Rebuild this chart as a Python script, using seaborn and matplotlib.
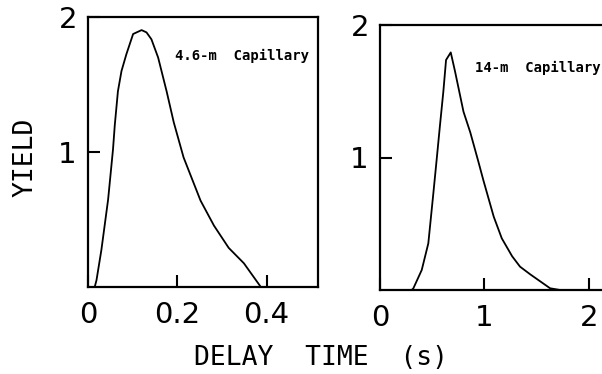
import matplotlib
matplotlib.use("Agg")
import matplotlib.pyplot as plt
import seaborn as sns
import pandas as pd

# ---- data ----
left_delay = [0.015, 0.019, 0.030, 0.045, 0.056, 0.060, 0.067, 0.075, 0.086, 0.101,
              0.120, 0.131, 0.142, 0.157, 0.176, 0.192, 0.214, 0.252, 0.282, 0.315,
              0.349, 0.387]
left_yield = [0.0, 0.05, 0.275, 0.647, 1.02, 1.20, 1.45, 1.60, 1.725, 1.874,
              1.903, 1.886, 1.835, 1.70, 1.45, 1.22, 0.96, 0.64, 0.455, 0.29,
              0.176, 0.0]

right_delay = [0.304, 0.32, 0.40, 0.463, 0.51, 0.54, 0.575, 0.607, 0.633, 0.678,
               0.719, 0.80, 0.865, 0.943, 0.99, 1.09, 1.167, 1.266, 1.342, 1.44,
               1.63, 1.726, 1.85]
right_yield = [0.0, 0.013, 0.151, 0.352, 0.72, 0.96, 1.245, 1.497, 1.736, 1.793,
               1.65, 1.346, 1.19, 0.968, 0.83, 0.553, 0.39, 0.255, 0.176, 0.118,
               0.013, 0.0, 0.0]

left_label = "4.6-m  Capillary"
right_label = "14-m  Capillary"
left_xticks = [0, 0.2, 0.4]
left_xticklabels = ["0", "0.2", "0.4"]
right_xticks = [0, 1, 2]
right_xticklabels = ["0", "1", "2"]
yticks = [1, 2]
yticklabels = ["1", "2"]

sns.set_style("white")
plt.rcParams['font.family'] = ['DejaVu Sans']
plt.rcParams['text.color'] = 'black'
plt.rcParams['xtick.color'] = 'black'
plt.rcParams['ytick.color'] = 'black'

fig = plt.figure(figsize=(6.02, 3.74), dpi=100)
W, H = 602, 374

def pos(l, r, t, b):
    return [l / W, 1 - b / H, (r - l) / W, (b - t) / H]

ax1 = fig.add_axes(pos(88, 318, 17, 287))
ax2 = fig.add_axes(pos(380, 620, 25, 290))

df1 = pd.DataFrame({"delay": left_delay, "yield": left_yield})
df2 = pd.DataFrame({"delay": right_delay, "yield": right_yield})

sns.lineplot(data=df1, x="delay", y="yield", ax=ax1, color="black", lw=1.3, sort=False)
sns.lineplot(data=df2, x="delay", y="yield", ax=ax2, color="black", lw=1.3, sort=False)

ax1.set_xlim(0, 0.515)
ax2.set_xlim(0, 2.3)
for ax in (ax1, ax2):
    ax.set_ylim(0, 2)
    ax.set_xlabel("")
    ax.set_ylabel("")
    for s in ax.spines.values():
        s.set_linewidth(1.6)
        s.set_color("black")
    ax.set_yticks(yticks)
    ax.set_yticklabels(yticklabels)
    ax.tick_params(direction="in", length=8.5, width=1.5, labelsize=21,
                   colors="black", pad=8, bottom=True, left=True)
    ax.tick_params(axis="x", pad=10)

ax1.set_xticks(left_xticks)
ax1.set_xticklabels(left_xticklabels)
ax2.set_xticks(right_xticks)
ax2.set_xticklabels(right_xticklabels)

ax1.text(0.378, 0.855, left_label, transform=ax1.transAxes, ha="left", va="center",
         fontsize=10, fontweight="bold", family="DejaVu Sans Mono", color="black")
ax2.text(0.396, 0.838, right_label, transform=ax2.transAxes, ha="left", va="center",
         fontsize=10, fontweight="bold", family="DejaVu Sans Mono", color="black")

fig.text(26 / W, 1 - 157 / H, "YIELD", rotation=90, ha="center", va="center",
         fontsize=19, family="DejaVu Sans Mono", color="black")
fig.text(321 / W, 1 - 358 / H, "DELAY  TIME  (s)", ha="center", va="center",
         fontsize=19, family="DejaVu Sans Mono", color="black")

fig.savefig("out.png", dpi=100)
